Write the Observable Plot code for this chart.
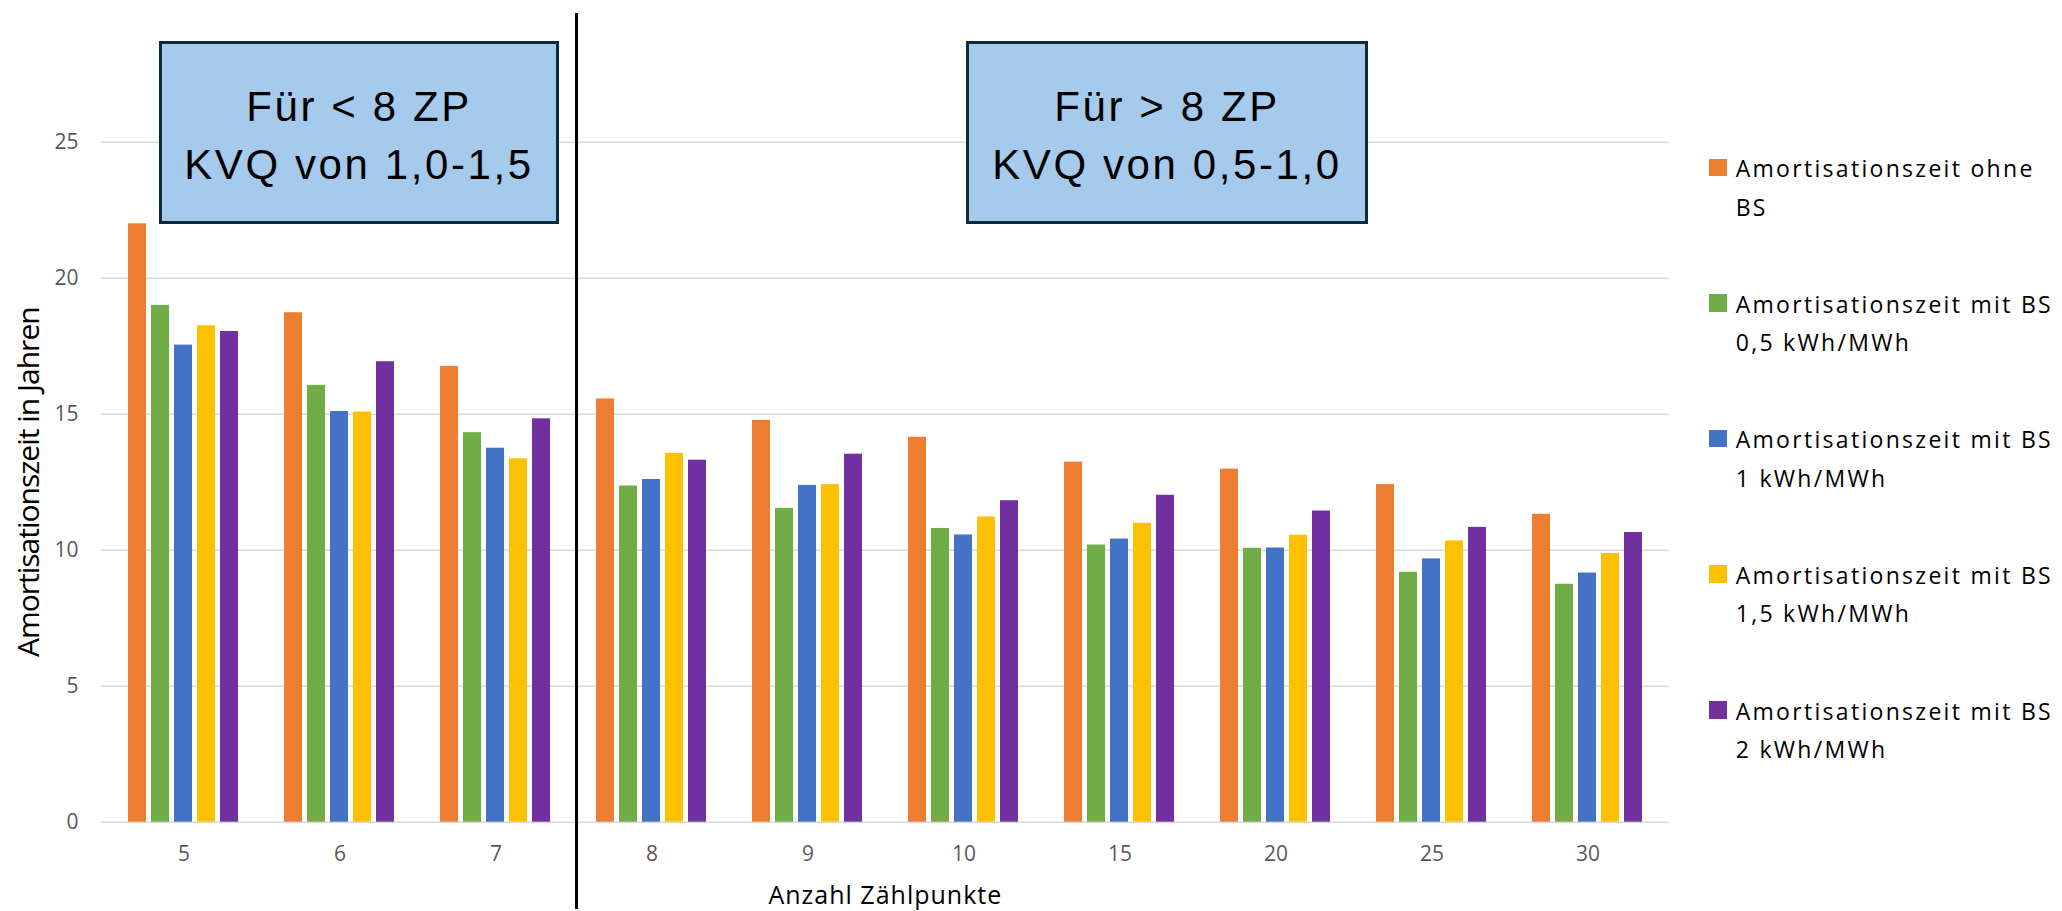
<!DOCTYPE html>
<html>
<head>
<meta charset="utf-8">
<script src="https://cdn.jsdelivr.net/npm/d3@7"></script>
<script src="https://cdn.jsdelivr.net/npm/@observablehq/plot@0.6"></script>
<style>
  html, body { margin: 0; padding: 0; background: #fff; }
  #wrap { position: relative; width: 2062px; height: 911px; overflow: hidden; background: #fff; }
  #wrap > .layer { position: absolute; left: 0; top: 0; }
  .ytitle text { letter-spacing: -1px; }
  .xtitle text { letter-spacing: 1px; }
  .box {
    position: absolute; box-sizing: border-box; top: 41px; height: 183px;
    background: #a6caec; border: 3px solid #0f2a3c;
    font-family: "Liberation Sans", Arial, sans-serif; font-size: 42px; letter-spacing: 2.6px;
    color: #000; text-align: center; line-height: 58px;
  }
  .box .txt { position: absolute; left: 0; right: 0; top: 34px; }
  #divider { position: absolute; left: 574.5px; top: 13px; width: 3px; height: 896px; background: #000; }
  .leg { position: absolute; left: 1709px; font-family: "Open Sans", sans-serif; font-size: 23px; letter-spacing: 2.3px; color: #000; }
  .leg .sw { position: absolute; left: 0; width: 17.5px; height: 17.5px; }
  .leg .lt { position: absolute; left: 26.7px; width: 336px; line-height: 38.5px; }
</style>
</head>
<body>
<div id="wrap"></div>
<script>
// ---- data ----
const categories = ["5", "6", "7", "8", "9", "10", "15", "20", "25", "30"];
const seriesNames = [
  "Amortisationszeit ohne BS",
  "Amortisationszeit mit BS 0,5 kWh/MWh",
  "Amortisationszeit mit BS 1 kWh/MWh",
  "Amortisationszeit mit BS 1,5 kWh/MWh",
  "Amortisationszeit mit BS 2 kWh/MWh"
];
const seriesColors = ["#ED7D31", "#70AD47", "#4472C4", "#FFC000", "#7030A0"];
const ohneBS = [22.0, 18.73, 16.76, 15.56, 14.77, 14.15, 13.24, 12.98, 12.41, 11.32];
const mitBS05 = [19.0, 16.06, 14.32, 12.36, 11.54, 10.80, 10.19, 10.07, 9.19, 8.75];
const mitBS1 = [17.54, 15.10, 13.75, 12.60, 12.38, 10.56, 10.41, 10.08, 9.68, 9.16];
const mitBS15 = [18.25, 15.08, 13.36, 13.56, 12.41, 11.22, 10.99, 10.55, 10.34, 9.88];
const mitBS2 = [18.04, 16.93, 14.83, 13.31, 13.53, 11.82, 12.02, 11.44, 10.84, 10.65];
const yTicks = [0, 5, 10, 15, 20, 25];
const xTitle = "Anzahl Zählpunkte";
const yTitle = "Amortisationszeit in Jahren";
const boxLeftText = ["Für < 8 ZP", "KVQ von 1,0-1,5"];
const boxRightText = ["Für > 8 ZP", "KVQ von 0,5-1,0"];

const seriesValues = [ohneBS, mitBS05, mitBS1, mitBS15, mitBS2];
const data = [];
categories.forEach((c, i) => {
  seriesNames.forEach((s, j) => data.push({cat: c, series: s, value: seriesValues[j][i]}));
});

const W = 2062, H = 911;
const margins = {marginLeft: 101, marginRight: 393.3, marginTop: 141.7, marginBottom: 89.3};
const wrap = document.getElementById("wrap");

// ---- layer 1: grid, y axis, titles ----
const base = Plot.plot({
  width: W, height: H, ...margins,
  style: {fontFamily: "Open Sans, sans-serif", fontSize: "21px", background: "white", overflow: "visible"},
  y: {domain: [0, 25]},
  marks: [
    Plot.gridY(yTicks, {stroke: "#d9d9d9", strokeOpacity: 1, strokeWidth: 1.6}),
    Plot.axisY(yTicks, {tickSize: 0, tickPadding: 23, label: null, fill: "#595959", fontSize: 21}),
    Plot.text([xTitle], {text: d => d, frameAnchor: "bottom", textAnchor: "middle", lineAnchor: "middle", dy: 73.3, fontSize: 25, fill: "#000", className: "xtitle"}),
    Plot.text([yTitle], {text: d => d, frameAnchor: "left", textAnchor: "middle", lineAnchor: "middle", rotate: -90, dx: -72, fontSize: 30, fill: "#000", className: "ytitle"})
  ]
});
base.classList.add("layer");
wrap.appendChild(base);

// ---- layer 2: grouped bars ----
const bars = Plot.plot({
  width: W, height: H, ...margins,
  style: {fontFamily: "Open Sans, sans-serif", fontSize: "21px", background: "transparent", color: "#595959", overflow: "visible"},
  fx: {domain: categories, paddingInner: 0.266, paddingOuter: 0.133, axis: "bottom", tickSize: 0, tickPadding: 24, label: null},
  x: {domain: seriesNames, paddingInner: 0.208, paddingOuter: 0, axis: null},
  y: {domain: [0, 25], axis: null},
  color: {domain: seriesNames, range: seriesColors},
  marks: [
    Plot.barY(data, {fx: "cat", x: "series", y: "value", fill: "series"})
  ]
});
bars.classList.add("layer");
wrap.appendChild(bars);

// ---- annotation boxes and divider ----
function addBox(left, lines) {
  const b = document.createElement("div");
  b.className = "box";
  b.style.left = left + "px";
  b.style.width = (left === 159 ? 400 : 402) + "px";
  const t = document.createElement("div");
  t.className = "txt";
  t.innerHTML = lines.map(l => l.replace(/&/g, "&amp;").replace(/</g, "&lt;").replace(/>/g, "&gt;")).join("<br>");
  b.appendChild(t);
  wrap.appendChild(b);
}
addBox(159, boxLeftText);
addBox(966, boxRightText);
const dv = document.createElement("div");
dv.id = "divider";
wrap.appendChild(dv);

// ---- legend ----
seriesNames.forEach((s, i) => {
  const baseline = 177.3 + i * 135.6;
  const item = document.createElement("div");
  item.className = "leg";
  item.style.top = "0px";
  const sw = document.createElement("div");
  sw.className = "sw";
  sw.style.background = seriesColors[i];
  sw.style.top = (baseline - 18.7) + "px";
  const lt = document.createElement("div");
  lt.className = "lt";
  lt.textContent = s;
  const half = (38.5 - 23 * 1.362) / 2;
  lt.style.top = (baseline - half - 23 * 1.069) + "px";
  item.appendChild(sw);
  item.appendChild(lt);
  wrap.appendChild(item);
});
</script>
</body>
</html>
